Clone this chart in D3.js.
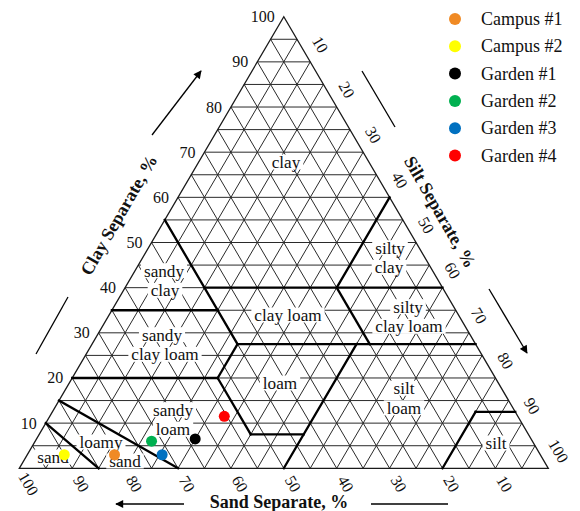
<!DOCTYPE html>
<html>
<head>
<meta charset="utf-8">
<script src="https://cdn.jsdelivr.net/npm/d3@7"></script>
<style>
  html, body { margin: 0; padding: 0; background: #fff; }
  svg { display: block; }
  text { font-family: "Times New Roman", "Liberation Serif", serif; fill: #111; }
</style>
</head>
<body>
<svg id="chart" width="580" height="511"></svg>
<script>
// Soil samples: sand / silt / clay percentages
const sampleNames = ["Campus #1", "Campus #2", "Garden #1", "Garden #2", "Garden #3", "Garden #4"];
const sampleSand  = [80.5, 90, 63.5, 72, 71.5, 55.5];
const sampleSilt  = [16.5,  7, 30,   22, 25.5, 33];
const sampleClay  = [ 3,    3,  6.5,  6,  3,   11.5];
const sampleColors = ["#F08A24", "#FFFF00", "#000000", "#00B050", "#0070C0", "#FF0000"];

// Axis tick values
const clayTicks = [10, 20, 30, 40, 50, 60, 70, 80, 90, 100];
const siltTicks = [10, 20, 30, 40, 50, 60, 70, 80, 90, 100];
const sandTicks = [100, 90, 80, 70, 60, 50, 40, 30, 20, 10];

// USDA texture class boundaries, each segment as [sand, silt, clay] end points
const boundaries = [
  [[45, 0, 55], [45, 27.5, 27.5]],
  [[45, 15, 40], [0, 60, 40]],
  [[20, 40, 40], [0, 40, 60]],
  [[65, 0, 35], [45, 20, 35]],
  [[20, 40, 40], [20, 52.5, 27.5]],
  [[45, 27.5, 27.5], [0, 72.5, 27.5]],
  [[45, 27.5, 27.5], [52.5, 27.5, 20]],
  [[80, 0, 20], [52.5, 27.5, 20]],
  [[52.5, 27.5, 20], [52.5, 40, 7.5]],
  [[52.5, 40, 7.5], [42.5, 50, 7.5]],
  [[50, 50, 0], [22.5, 50, 27.5]],
  [[20, 80, 0], [7.5, 80, 12.5]],
  [[7.5, 80, 12.5], [0, 87.5, 12.5]],
  [[85, 0, 15], [70, 30, 0]],
  [[90, 0, 10], [85, 15, 0]]
];

// Texture class names, split into their written lines
const classNames = ["clay", "sandy clay", "sandy clay loam", "clay loam", "loam", "sandy loam",
  "loamy sand", "sand", "silty clay", "silty clay loam", "silt loam", "silt"];
const classLines = [["clay"], ["sandy", "clay"], ["sandy", "clay loam"], ["clay loam"], ["loam"],
  ["sandy", "loam"], ["loamy", "sand"], ["sand"], ["silty", "clay"], ["silty", "clay loam"],
  ["silt", "loam"], ["silt"]];

// Where each written line sits
const classPos = [
  [[286, 162]], [[164, 270.7], [165, 290.3]], [[162, 334.7], [165, 354.3]], [[288, 315]], [[280, 383]],
  [[173, 409.7], [173, 429.3]], [[101, 442], [125, 461]], [[53, 457]], [[390, 247.7], [389, 267.3]],
  [[408, 306.7], [409, 326.3]], [[404, 388.2], [404, 407.8]], [[496, 443]]
];

const svg = d3.select("#chart");

// Ternary projection built on two linear scales
const yScale = d3.scaleLinear().domain([0, 100]).range([468.3, 16.7]);
const hScale = d3.scaleLinear().domain([0, 100]).range([19.3, 548.3]);
const proj = ([sand, silt, clay]) => [hScale(silt + clay / 2), yScale(clay)];
const line = d3.line();

// Thin 5% lattice
const grid = svg.append("g").attr("stroke", "#2a2a2a").attr("stroke-width", 1).attr("fill", "none");
const gridSegs = [];
for (let k = 5; k < 100; k += 5) {
  gridSegs.push([[100 - k, 0, k], [0, 100 - k, k]]);   // constant clay
  gridSegs.push([[k, 100 - k, 0], [k, 0, 100 - k]]);   // constant sand
  gridSegs.push([[100 - k, k, 0], [0, k, 100 - k]]);   // constant silt
}
grid.selectAll("path").data(gridSegs).join("path").attr("d", d => line(d.map(proj)));
svg.append("path")
  .attr("d", line([[100, 0, 0], [0, 0, 100], [0, 100, 0]].map(proj)) + "Z")
  .attr("fill", "none").attr("stroke", "#1a1a1a").attr("stroke-width", 1.3);

// Class names with white backing
const maskG = svg.append("g");
const boundG = svg.append("g");
const labelG = svg.append("g");
const classText = labelG.selectAll("text").data(classNames).join("text")
  .attr("font-size", 17.2)
  .attr("text-anchor", "middle")
  .attr("dominant-baseline", "central");
classText.each(function (name, i) {
  const t = d3.select(this);
  classLines[i].forEach((ln, j) => {
    const [x, y] = classPos[i][j];
    const span = t.append("tspan").attr("x", x).attr("y", y).text(ln);
    const w = span.node().getComputedTextLength();
    maskG.append("rect").attr("x", x - w / 2 - 3).attr("y", y - 7.5)
      .attr("width", w + 6).attr("height", 15).attr("fill", "#fff");
  });
});

// Class boundaries
boundG.attr("stroke", "#000").attr("stroke-width", 2.3).attr("fill", "none")
  .attr("stroke-linecap", "square")
  .selectAll("path").data(boundaries).join("path").attr("d", d => line(d.map(proj)));

// Tick labels
const tickG = svg.append("g").attr("font-size", 16);
tickG.selectAll(".clay").data(clayTicks).join("text").attr("class", "clay")
  .attr("x", d => proj([100 - d, 0, d])[0] - 9)
  .attr("y", d => yScale(d))
  .attr("text-anchor", "end").attr("dominant-baseline", "central")
  .text(d => d);

function unit(a, b) {
  const dx = a[0] - b[0], dy = a[1] - b[1], L = Math.hypot(dx, dy);
  return [dx / L, dy / L];
}
// silt lines run parallel to the left edge, sand lines parallel to the right edge
const siltDir = unit(proj([0, 0, 100]), proj([100, 0, 0]));
const sandDir = unit(proj([0, 100, 0]), proj([0, 0, 100]));
tickG.selectAll(".silt").data(siltTicks).join("text").attr("class", "silt")
  .attr("transform", d => {
    const e = proj([0, d, 100 - d]);
    return `translate(${e[0] + siltDir[0] * 20},${e[1] + siltDir[1] * 20}) rotate(60)`;
  })
  .attr("text-anchor", "middle").attr("dominant-baseline", "central")
  .text(d => d);
tickG.selectAll(".sand").data(sandTicks).join("text").attr("class", "sand")
  .attr("transform", d => {
    const e = proj([d, 100 - d, 0]);
    return `translate(${e[0] + sandDir[0] * 18},${e[1] + sandDir[1] * 18}) rotate(60)`;
  })
  .attr("text-anchor", "middle").attr("dominant-baseline", "central")
  .text(d => d);

// Axis titles
const titleG = svg.append("g").attr("font-size", 18).attr("font-weight", "bold")
  .attr("text-anchor", "middle").attr("dominant-baseline", "central");
titleG.append("text").attr("transform", "translate(119,215) rotate(-60)").text("Clay Separate, %");
titleG.append("text").attr("transform", "translate(440,212) rotate(60)").text("Silt Separate, %");
titleG.append("text").attr("x", 279).attr("y", 502).text("Sand Separate, %");

// Direction arrows and guide strokes
const defs = svg.append("defs");
defs.append("marker").attr("id", "head").attr("viewBox", "0 0 10 10")
  .attr("refX", 9).attr("refY", 5).attr("markerWidth", 10).attr("markerHeight", 8)
  .attr("markerUnits", "userSpaceOnUse").attr("orient", "auto")
  .append("path").attr("d", "M0,0 L10,5 L0,10 Z").attr("fill", "#000");
const guides = [
  { p: [[152, 135], [201, 71]], arrow: true },
  { p: [[36, 354], [68, 297]], arrow: false },
  { p: [[362, 71], [395, 127]], arrow: false },
  { p: [[489, 289], [527, 353]], arrow: true },
  { p: [[184, 504], [116, 504]], arrow: true },
  { p: [[371, 504], [448, 504]], arrow: false }
];
svg.append("g").selectAll("path").data(guides).join("path")
  .attr("d", d => line(d.p)).attr("stroke", "#000").attr("stroke-width", 1.3).attr("fill", "none")
  .attr("marker-end", d => d.arrow ? "url(#head)" : null);

// Sample points
svg.append("g").selectAll("circle").data(sampleNames).join("circle")
  .attr("cx", (d, i) => proj([sampleSand[i], sampleSilt[i], sampleClay[i]])[0])
  .attr("cy", (d, i) => proj([sampleSand[i], sampleSilt[i], sampleClay[i]])[1])
  .attr("r", 5.5)
  .attr("fill", (d, i) => sampleColors[i]);

// Legend
const legY = d3.scaleLinear().domain([0, 1]).range([19, 46.3]);
const leg = svg.append("g").selectAll("g").data(sampleNames).join("g")
  .attr("transform", (d, i) => `translate(455,${legY(i)})`);
leg.append("circle").attr("r", 6).attr("fill", (d, i) => sampleColors[i]);
leg.append("text").attr("x", 26).attr("dominant-baseline", "central")
  .attr("font-size", 18).text(d => d);
</script>
</body>
</html>
